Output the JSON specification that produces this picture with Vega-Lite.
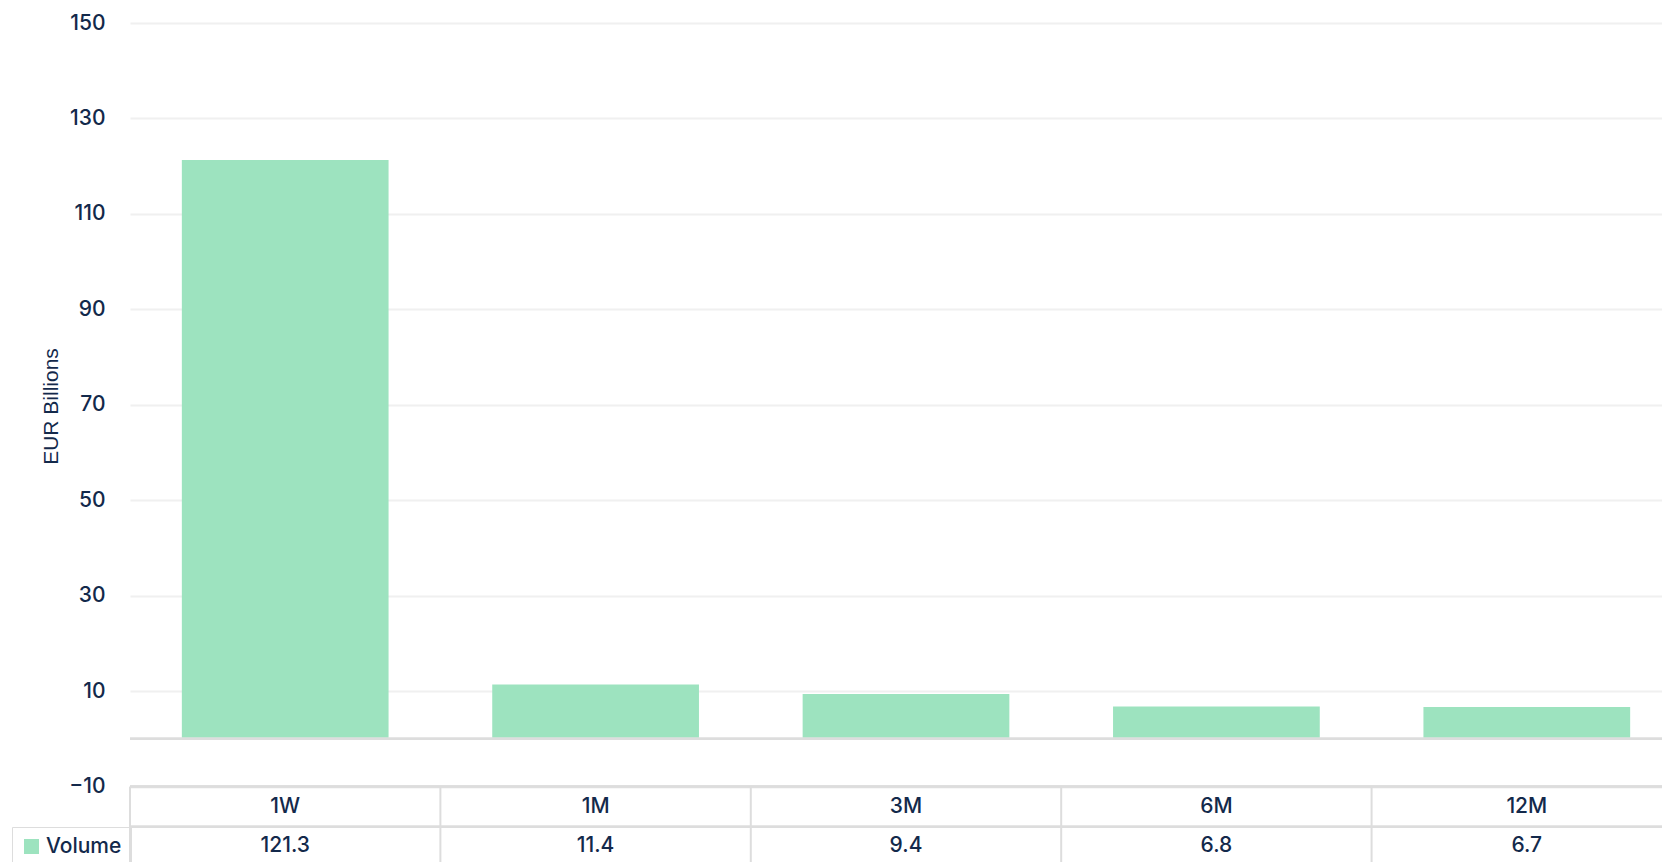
{
  "$schema": "https://vega.github.io/schema/vega-lite/v6.json",
  "width": 1532,
  "height": 839,
  "autosize": {"type": "none"},
  "padding": {"left": 130, "top": 23, "right": 0, "bottom": 0},
  "background": "white",
  "config": {"view": {"stroke": null}, "font": "Inter"},
  "data": {"values": [
    {"tenor": "1W", "volume": 121.3, "series": "Volume"},
    {"tenor": "1M", "volume": 11.4, "series": "Volume"},
    {"tenor": "3M", "volume": 9.4, "series": "Volume"},
    {"tenor": "6M", "volume": 6.8, "series": "Volume"},
    {"tenor": "12M", "volume": 6.7, "series": "Volume"}
  ]},
  "layer": [
    {
      "mark": {"type": "bar"},
      "encoding": {
        "x": {"field": "tenor", "type": "nominal", "sort": ["1W", "1M", "3M", "6M", "12M"],
              "scale": {"range": [0, 1552], "paddingInner": 0.334, "paddingOuter": 0.167}, "axis": null},
        "y": {"field": "volume", "type": "quantitative",
              "scale": {"domain": [-25.8, 150], "nice": false, "zero": false},
              "axis": {"values": [-10, 10, 30, 50, 70, 90, 110, 130, 150], "grid": true, "gridColor": "#f0f0f0", "gridWidth": 2,
                       "domain": false, "ticks": false, "tickSize": 0, "labelPadding": 25,
                       "labelFont": "Inter", "labelFontSize": 21, "labelFontWeight": 500, "labelColor": "#13294b",
                       "title": "EUR Billions", "titleFont": "Liberation Sans", "titleFontSize": 21, "titleFontWeight": "normal",
                       "titleColor": "#13294b", "titleX": -79, "titleY": 383, "titleAngle": -90, "titleAlign": "center", "titleBaseline": "middle"}},
        "y2": {"datum": 0},
        "color": {"field": "series", "type": "nominal", "scale": {"domain": ["Volume"], "range": ["#9de3bf"]},
                  "legend": {"orient": "none", "legendX": -118, "legendY": 804, "title": null, "symbolType": "square", "symbolSize": 225,
                             "symbolStrokeWidth": 0, "labelFont": "Inter", "labelFontSize": 21, "labelFontWeight": 500, "labelColor": "#13294b",
                             "strokeColor": "#dddddd", "padding": 9, "labelOffset": 4}}
      }
    },
    {"mark": {"type": "rule", "color": "#dddddd", "strokeWidth": 2}, "encoding": {"y": {"datum": 0}}},
    {"mark": {"type": "rule", "color": "#dddddd", "strokeWidth": 2}, "encoding": {"y": {"datum": -10}}},
    {"mark": {"type": "rule", "color": "#dddddd", "strokeWidth": 2}, "encoding": {"y": {"datum": -18.4}}},
    {
      "mark": {"type": "rule", "color": "#dddddd", "strokeWidth": 2},
      "encoding": {
        "x": {"field": "tenor", "type": "nominal", "sort": ["1W", "1M", "3M", "6M", "12M"], "bandPosition": -0.2508},
        "y": {"datum": -10},
        "y2": {"datum": -25.8}
      }
    },
    {
      "mark": {"type": "text", "font": "Inter", "fontSize": 21, "fontWeight": 500, "color": "#13294b", "baseline": "middle", "align": "center"},
      "encoding": {
        "x": {"field": "tenor", "type": "nominal", "sort": ["1W", "1M", "3M", "6M", "12M"]},
        "y": {"datum": -14.2},
        "text": {"field": "tenor"}
      }
    },
    {
      "mark": {"type": "text", "font": "Inter", "fontSize": 21, "fontWeight": 500, "color": "#13294b", "baseline": "middle", "align": "center"},
      "encoding": {
        "x": {"field": "tenor", "type": "nominal", "sort": ["1W", "1M", "3M", "6M", "12M"]},
        "y": {"datum": -22.5},
        "text": {"field": "volume", "type": "quantitative", "format": ".1f"}
      }
    }
  ]
}
